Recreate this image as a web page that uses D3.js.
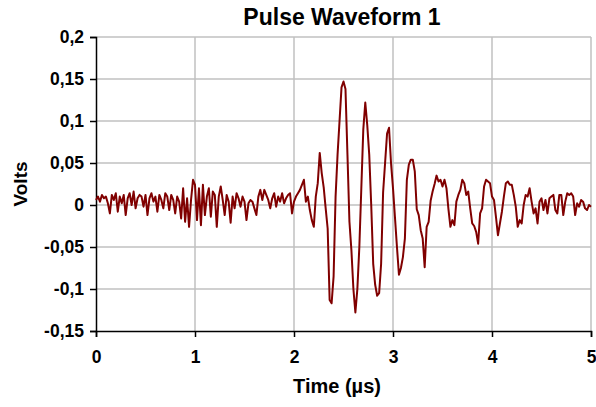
<!DOCTYPE html>
<html>
<head>
<meta charset="utf-8">
<script src="https://cdn.jsdelivr.net/npm/d3@7"></script>
<style>
  body { margin: 0; background: #fff; }
  svg text { font-family: "Liberation Sans", Arial, sans-serif; font-weight: bold; fill: #000; }
</style>
</head>
<body>
<div id="chart"></div>
<script>
// sampled waveform, one value every 0.02 µs from 0 to 5 µs
const dt = 0.02;
const volts = [
  // 0.00 - 0.98
  0.006, 0.010, 0.004, 0.012, 0.008, 0.010, 0.002, -0.010, 0.012, 0.006,
  0.014, -0.008, 0.010, 0.002, 0.012, -0.012, 0.008, 0.014, 0.000, 0.016,
  -0.004, 0.008, 0.012, 0.010, -0.002, 0.012, -0.012, 0.008, 0.014, 0.004,
  0.010, -0.008, 0.012, 0.006, -0.004, 0.014, 0.010, -0.006, 0.012, 0.006,
  -0.010, 0.010, 0.004, -0.016, 0.020, -0.020, 0.008, -0.026, 0.006, 0.030,
  // 1.00 - 1.98
  0.024, -0.018, 0.020, -0.024, 0.024, -0.012, 0.010, 0.020, -0.014, 0.016,
  0.012, -0.026, 0.010, 0.022, 0.006, -0.012, 0.012, 0.004, -0.021, 0.010,
  -0.004, 0.014, 0.008, -0.002, 0.010, 0.004, -0.018, 0.002, 0.006, 0.004,
  -0.004, -0.012, 0.010, 0.018, 0.006, 0.018, 0.012, 0.006, -0.004, 0.008,
  0.014, -0.002, 0.010, 0.004, 0.014, 0.002, 0.008, 0.012, 0.014, -0.010,
  // 2.00 - 2.98
  0.004, 0.010, 0.014, 0.018, 0.024, 0.030, 0.004, 0.010, -0.006, -0.018,
  -0.026, 0.010, 0.026, 0.062, 0.038, 0.021, -0.004, -0.028, -0.113, -0.117,
  -0.085, 0.010, 0.060, 0.100, 0.140, 0.147, 0.138, 0.060, -0.020, -0.054,
  -0.100, -0.128, -0.100, -0.050, 0.020, 0.090, 0.122, 0.095, 0.060, 0.000,
  -0.070, -0.095, -0.108, -0.105, -0.070, 0.015, 0.050, 0.085, 0.092, 0.050,
  // 3.00 - 3.98
  0.020, -0.015, -0.050, -0.083, -0.075, -0.062, -0.040, 0.030, 0.048, 0.054,
  0.054, 0.040, -0.005, -0.012, -0.030, -0.040, -0.074, -0.026, -0.020, 0.005,
  0.016, 0.025, 0.035, 0.028, 0.030, 0.022, 0.030, 0.020, -0.005, -0.026,
  -0.018, -0.024, 0.004, 0.012, 0.018, 0.030, 0.026, 0.012, 0.016, -0.004,
  -0.022, -0.025, -0.032, -0.046, -0.010, -0.004, 0.022, 0.030, 0.028, 0.026,
  // 4.00 - 5.00
  0.010, 0.006, -0.014, -0.036, -0.022, -0.008, 0.010, 0.026, 0.028, 0.024,
  0.024, 0.012, -0.002, -0.026, -0.018, -0.022, 0.000, 0.012, 0.010, 0.020,
  0.004, -0.010, -0.004, -0.022, 0.004, 0.008, -0.006, 0.006, -0.010, 0.008,
  0.010, 0.012, -0.006, -0.010, 0.012, 0.012, -0.012, 0.004, 0.014, 0.012,
  0.014, 0.010, -0.012, 0.002, -0.002, 0.006, 0.004, -0.004, -0.006, 0.000,
  -0.002
];

const xTicks = [0, 1, 2, 3, 4, 5];
const yTicks = [-0.15, -0.1, -0.05, 0, 0.05, 0.1, 0.15, 0.2];

const data = volts.map((v, i) => ({ t: i * dt, v }));

const width = 596;
const height = 407;
const margin = { top: 37, right: 5, bottom: 76, left: 96 };

const locale = d3.formatLocale({ decimal: ',', thousands: '.', grouping: [3], currency: ['', ''], minus: '-' });
const fmt = locale.format('~g');

const svg = d3.select('#chart')
  .append('svg')
  .attr('width', width)
  .attr('height', height);

const x = d3.scaleLinear().domain([0, 5]).range([margin.left, width - margin.right]);
const y = d3.scaleLinear().domain([-0.15, 0.2]).range([height - margin.bottom, margin.top]);

// gridlines
svg.append('g')
  .selectAll('line')
  .data(yTicks.filter(d => d > -0.15))
  .join('line')
  .attr('x1', x(0)).attr('x2', x(5))
  .attr('y1', d => y(d)).attr('y2', d => y(d))
  .attr('stroke', '#c0c0c0')
  .attr('stroke-width', 1.5);

svg.append('g')
  .selectAll('line')
  .data(xTicks.filter(d => d > 0))
  .join('line')
  .attr('x1', d => x(d)).attr('x2', d => x(d))
  .attr('y1', y(0.2)).attr('y2', y(-0.15))
  .attr('stroke', '#c0c0c0')
  .attr('stroke-width', 1.5);

// axes
const yAxis = d3.axisLeft(y).tickValues(yTicks).tickFormat(fmt).tickSize(6).tickPadding(6);
const xAxis = d3.axisBottom(x).tickValues(xTicks).tickFormat(d3.format('d')).tickSize(6).tickPadding(14);

const gy = svg.append('g')
  .attr('transform', `translate(${margin.left},0)`)
  .call(yAxis);
const gx = svg.append('g')
  .attr('transform', `translate(0,${height - margin.bottom})`)
  .call(xAxis);

[gy, gx].forEach(g => {
  g.select('.domain').attr('stroke', '#000').attr('stroke-width', 1.5);
  g.selectAll('.tick line').attr('stroke', '#000').attr('stroke-width', 1.5);
  g.selectAll('.tick text').style('font-size', '17.5px').attr('fill', '#000');
});

// waveform
const line = d3.line()
  .x(d => x(d.t))
  .y(d => y(d.v));

svg.append('path')
  .datum(data)
  .attr('fill', 'none')
  .attr('stroke', '#800000')
  .attr('stroke-width', 2)
  .attr('stroke-linejoin', 'round')
  .attr('d', line);

// titles
svg.append('text')
  .attr('x', 342)
  .attr('y', 25)
  .attr('text-anchor', 'middle')
  .style('font-size', '23px')
  .text('Pulse Waveform 1');

svg.append('text')
  .attr('x', 337)
  .attr('y', 393)
  .attr('text-anchor', 'middle')
  .style('font-size', '20px')
  .text('Time (µs)');

svg.append('text')
  .attr('transform', `translate(27,${y(0.025)}) rotate(-90)`)
  .attr('text-anchor', 'middle')
  .style('font-size', '19px')
  .text('Volts');
</script>
</body>
</html>
